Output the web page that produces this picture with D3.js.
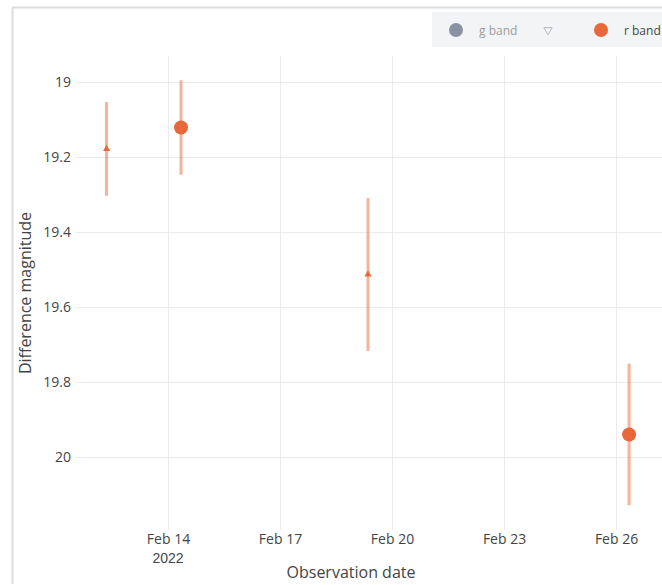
<!DOCTYPE html>
<html>
<head>
<meta charset="utf-8">
<script src="https://cdn.jsdelivr.net/npm/d3@7"></script>
<style>
  html, body { margin: 0; padding: 0; background: #fff; }
  svg { display: block; font-family: "Open Sans", "Noto Sans", sans-serif; }
</style>
</head>
<body>
<svg id="chart" width="662" height="585"></svg>
<script>
// r band detections (circles)
const rBandDates = ["2022-02-14T08:22", "2022-02-26T08:23"];
const rBandMags  = [19.121, 19.940];
const rBandErrs  = [0.126, 0.189];

// r band lower-quality points (triangles)
const rTriDates = ["2022-02-12T08:30", "2022-02-19T08:34"];
const rTriMags  = [19.178, 19.513];
const rTriErrs  = [0.125, 0.204];

// axis ticks
const xTickDates  = ["2022-02-14", "2022-02-17", "2022-02-20", "2022-02-23", "2022-02-26"];
const xTickLabels = ["Feb 14", "Feb 17", "Feb 20", "Feb 23", "Feb 26"];
const yTicks      = [19, 19.2, 19.4, 19.6, 19.8, 20];

const legendNames = ["g band", "", "r band"];

const COLOR_R = "#e8673b";
const COLOR_R_ERR = "rgba(232,103,59,0.5)";

const W = 662, H = 585;
const plot = { left: 76, right: 662, top: 56, bottom: 530 };

const parse = d3.utcParse("%Y-%m-%dT%H:%M");
const parseDay = d3.utcParse("%Y-%m-%d");

const svg = d3.select("#chart");

// outer frame (top and left edges)
svg.append("line").attr("x1", 12.5).attr("x2", W).attr("y1", 7.5).attr("y2", 7.5)
  .attr("stroke", "#dcdcdc").attr("stroke-width", 2);
svg.append("line").attr("x1", 12.5).attr("x2", 12.5).attr("y1", 7).attr("y2", 584)
  .attr("stroke", "#dcdcdc").attr("stroke-width", 2);

const x = d3.scaleUtc()
  .domain([new Date(Date.UTC(2022, 1, 11, 12, 52)), new Date(Date.UTC(2022, 1, 27, 5, 32))])
  .range([plot.left, plot.right]);

// magnitudes: brighter at the top
const y = d3.scaleLinear()
  .domain([18.93, 20.195])
  .range([plot.top, plot.bottom]);

const xTicks = xTickDates.map(parseDay);

// grid
const grid = svg.append("g").attr("stroke", "#ebebeb").attr("stroke-width", 1);
grid.selectAll("line.gy").data(yTicks).join("line").attr("class", "gy")
  .attr("x1", plot.left).attr("x2", plot.right)
  .attr("y1", d => Math.round(y(d)) + 0.5).attr("y2", d => Math.round(y(d)) + 0.5);
grid.selectAll("line.gx").data(xTicks).join("line").attr("class", "gx")
  .attr("y1", plot.top).attr("y2", plot.bottom)
  .attr("x1", d => Math.round(x(d)) + 0.5).attr("x2", d => Math.round(x(d)) + 0.5);

// y axis
const yAxis = d3.axisLeft(y).tickValues(yTicks).tickSize(0).tickPadding(5)
  .tickFormat(d => d3.format("")(+d.toFixed(1)));
const gy = svg.append("g").attr("transform", `translate(${plot.left},0)`).call(yAxis);
gy.select(".domain").remove();
gy.selectAll("text").attr("fill", "#444").attr("font-size", 14)
  .attr("font-family", '"Open Sans", sans-serif');

// x axis
const xAxis = d3.axisBottom(x).tickValues(xTicks).tickSize(0).tickPadding(4)
  .tickFormat((d, i) => xTickLabels[i]);
const gx = svg.append("g").attr("transform", `translate(0,${plot.bottom})`).call(xAxis);
gx.select(".domain").remove();
gx.selectAll("text").attr("fill", "#444").attr("font-size", 14)
  .attr("font-family", '"Open Sans", sans-serif');
// year under the first tick
gx.append("text").attr("x", x(xTicks[0])).attr("y", 33)
  .attr("text-anchor", "middle").attr("fill", "#444").attr("font-size", 14)
  .text("2022");

// axis titles
svg.append("text").attr("x", 351).attr("y", 578).attr("text-anchor", "middle")
  .attr("fill", "#444").attr("font-size", 16).text("Observation date");
svg.append("text").attr("transform", `translate(31,${(plot.top + plot.bottom) / 2}) rotate(-90)`)
  .attr("text-anchor", "middle").attr("fill", "#444").attr("font-size", 16)
  .text("Difference magnitude");

// data
const circles = rBandDates.map((d, i) => ({ date: parse(d), mag: rBandMags[i], err: rBandErrs[i] }));
const tris = rTriDates.map((d, i) => ({ date: parse(d), mag: rTriMags[i], err: rTriErrs[i] }));

const marks = svg.append("g");
// error bars
marks.selectAll("line.err").data(circles.concat(tris)).join("line").attr("class", "err")
  .attr("x1", d => x(d.date)).attr("x2", d => x(d.date))
  .attr("y1", d => y(d.mag - d.err)).attr("y2", d => y(d.mag + d.err))
  .attr("stroke", COLOR_R_ERR).attr("stroke-width", 3);

// triangles
const triPath = d3.symbol().type(d3.symbolTriangle).size(22);
marks.selectAll("path.tri").data(tris).join("path").attr("class", "tri")
  .attr("transform", d => `translate(${x(d.date)},${y(d.mag)})`)
  .attr("d", triPath).attr("fill", COLOR_R);

// circles
marks.selectAll("circle.pt").data(circles).join("circle").attr("class", "pt")
  .attr("cx", d => x(d.date)).attr("cy", d => y(d.mag)).attr("r", 7)
  .attr("fill", COLOR_R);

// legend
const leg = svg.append("g");
leg.append("rect").attr("x", 432).attr("y", 12).attr("width", W - 432).attr("height", 35)
  .attr("fill", "#f3f4f6");
const legY = 30;
// g band (hidden trace)
leg.append("circle").attr("cx", 456).attr("cy", legY).attr("r", 7).attr("fill", "#8a91a3");
leg.append("text").attr("x", 479).attr("y", legY + 4.5).attr("font-size", 12)
  .attr("fill", "#444").attr("opacity", 0.5).text(legendNames[0]);
// hollow down-triangle (hidden trace)
leg.append("path")
  .attr("d", d3.symbol().type(d3.symbolTriangle).size(30)())
  .attr("transform", `translate(548,${legY}) rotate(180)`)
  .attr("fill", "none").attr("stroke", "#b4b8c0").attr("stroke-width", 1);
// r band
leg.append("circle").attr("cx", 601).attr("cy", legY).attr("r", 7).attr("fill", COLOR_R);
leg.append("text").attr("x", 624).attr("y", legY + 4.5).attr("font-size", 12)
  .attr("fill", "#444").text(legendNames[2]);
</script>
</body>
</html>
